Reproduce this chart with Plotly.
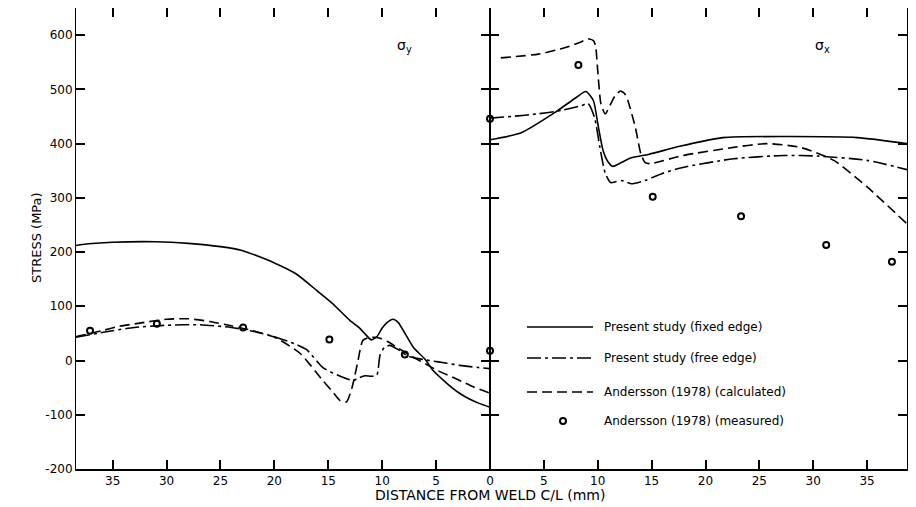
import plotly.graph_objects as go

# ---- data: sigma_y (left panel, distance decreasing to weld C/L) ----
sy_fixed_x = [38.4, 37.8, 35, 31, 28, 25, 23, 20, 18, 16, 14.6, 13, 12, 11.4, 11.0, 10.5, 10, 9.5, 9.0, 8.5, 8.0, 7.1, 6, 5.3, 4, 3, 2, 1, 0]
sy_fixed_y = [212, 214, 218, 219, 216, 210, 203, 180, 160, 128, 105, 74, 58, 45, 38, 44, 60, 71, 76, 70, 54, 24, 2, -18, -42, -58, -70, -79, -86]

sy_free_x = [38.4, 35, 33, 30, 27, 24, 22, 20, 18, 17, 15.5, 14, 12.7, 12.3, 11.6, 11.0, 10.5, 10.2, 9.8, 9.3, 8.5, 7.7, 6.5, 5.6, 4, 2.8, 1, 0]
sy_free_y = [43, 55, 61, 65, 66, 61, 54, 44, 30, 20, -13, -28, -37, -33, -28, -29, -27, 10, 24, 28, 20, 9, 3, 0, -5, -9, -13, -15]

sy_calc_x = [38.4, 36, 34.4, 32.5, 30, 28, 26, 24, 22, 20, 19.5, 17.6, 15.5, 14.5, 13.9, 13.3, 12.8, 12.3, 11.8, 11.3, 10.8, 10.2, 9.5, 8.6, 7.1, 6, 4.9, 3, 1.5, 0]
sy_calc_y = [44, 55, 63, 69, 76, 77, 72, 64, 55, 43, 38, 13, -37, -60, -74, -76, -50, -6, 37, 42, 43, 41, 35, 24, 6, -6, -18, -35, -49, -60]

sy_meas_x = [37.1, 30.9, 22.9, 14.9, 7.9, 0]
sy_meas_y = [55, 68, 61, 39, 11, 18]

# ---- data: sigma_x (right panel) ----
sx_fixed_x = [0, 2.9, 6.0, 8.0, 8.9, 9.6, 10.0, 10.5, 11.0, 11.4, 12.2, 13.1, 14.7, 17.6, 21.6, 27.2, 34.1, 38.7]
sx_fixed_y = [407, 420, 457, 485, 496, 479, 437, 387, 365, 358, 365, 374, 380, 395, 411, 413, 411, 400]

sx_free_x = [0, 2, 4.5, 6.6, 8.5, 9.1, 9.7, 10.2, 10.7, 11.2, 11.7, 12.2, 13.1, 14.4, 16, 17.9, 22.6, 27.2, 30.4, 35.0, 38.7]
sx_free_y = [447, 450, 455, 461, 470, 474, 448, 393, 345, 328, 330, 332, 326, 332, 345, 356, 372, 378, 377, 369, 352]

sx_calc_x = [1.0, 4.5, 7.0, 8.5, 9.1, 9.6, 9.8, 10.0, 10.3, 10.7, 11.2, 11.6, 12.1, 12.5, 12.8, 13.5, 14.0, 14.4, 14.9, 17.9, 22.6, 25.7, 28.8, 31.9, 35, 38.7]
sx_calc_y = [558, 565, 577, 588, 593, 590, 580, 534, 473, 455, 473, 488, 497, 492, 479, 429, 381, 365, 363, 378, 393, 400, 393, 369, 320, 252]

sx_meas_x = [0, 8.2, 15.1, 23.3, 31.2, 37.3]
sx_meas_y = [446, 545, 302, 266, 213, 182]

left_ticks = [35, 30, 25, 20, 15, 10, 5]
right_ticks = [0, 5, 10, 15, 20, 25, 30, 35]
y_ticks = [-200, -100, 0, 100, 200, 300, 400, 500, 600]
y_tick_text = ["-200", "-100", "0", "100", "200", "300", "400", "500", "600"]

legend_names = ["Present study (fixed edge)", "Present study (free edge)",
                "Andersson (1978) (calculated)", "Andersson (1978) (measured)"]

FONT = "DejaVu Sans"
SOLID = "solid"
DASHDOT = "14px,4px,3px,4px"
DASHED = "10px,5px"
LW = 1.6

fig = go.Figure()

def line(x, y, dash, xa, ya):
    fig.add_trace(go.Scatter(x=x, y=y, mode="lines", xaxis=xa, yaxis=ya,
                             line=dict(color="black", width=LW, dash=dash, shape="spline", smoothing=0.6),
                             showlegend=False, hoverinfo="skip"))

def pts(x, y, xa, ya):
    fig.add_trace(go.Scatter(x=x, y=y, mode="markers", xaxis=xa, yaxis=ya, cliponaxis=False,
                             marker=dict(symbol="circle-open", size=6, color="black", line=dict(width=2, color="black")),
                             showlegend=False, hoverinfo="skip"))

line(sy_fixed_x, sy_fixed_y, SOLID, "x", "y")
line(sy_free_x, sy_free_y, DASHDOT, "x", "y")
line(sy_calc_x, sy_calc_y, DASHED, "x", "y")
pts(sy_meas_x, sy_meas_y, "x", "y")

line(sx_fixed_x, sx_fixed_y, SOLID, "x2", "y2")
line(sx_free_x, sx_free_y, DASHDOT, "x2", "y2")
line(sx_calc_x, sx_calc_y, DASHED, "x2", "y2")
pts(sx_meas_x, sx_meas_y, "x2", "y2")

# page body has an 8px margin: figure origin sits at screen (8, 8)
OFF = 8
W, H = 916, 507
PL, PR, PT, PB = 76, 907, 8, 469          # target plot area in screen px
ML = PL - OFF
MT = PT - OFF
pw = PR - PL
ph = PB - PT
MR = W - ML - pw
MB = H - MT - ph
split = (490 - PL) / pw

def px2paper(px, py):
    return (px - PL) / pw, (PB - py) / ph

axis_common = dict(showline=True, linecolor="black", mirror="ticks",
                   ticks="inside", ticklen=9, tickwidth=1.5, tickcolor="black",
                   showgrid=False, zeroline=False, automargin=False,
                   tickfont=dict(family=FONT, size=12, color="black"))

fig.update_layout(
    width=W, height=H,
    margin=dict(l=ML, r=MR, t=MT, b=MB, autoexpand=False),
    paper_bgcolor="white", plot_bgcolor="white",
    font=dict(family=FONT, color="black"),
    xaxis=dict(domain=[0, split], range=[38.4, 0], tickvals=left_ticks, anchor="y", linewidth=1.5, **axis_common),
    xaxis2=dict(domain=[split, 1], range=[0, 38.7], tickvals=right_ticks, anchor="y2", linewidth=1.5, **axis_common),
    yaxis=dict(range=[-200, 650], tickvals=y_ticks, ticktext=y_tick_text, anchor="x", linewidth=1.1, **axis_common),
    yaxis2=dict(range=[-200, 650], tickvals=y_ticks, anchor="x2", showticklabels=False, linewidth=1.1, **axis_common),
)

# panel labels
fig.add_annotation(x=7.9, y=580, xref="x", yref="y", text="σ<sub>y</sub>", showarrow=False,
                   xanchor="center", yanchor="middle",
                   font=dict(family=FONT, size=14, color="black"))
fig.add_annotation(x=30.9, y=580, xref="x2", yref="y2", text="σ<sub>x</sub>", showarrow=False,
                   xanchor="center", yanchor="middle",
                   font=dict(family=FONT, size=14, color="black"))

# axis titles (plot-area paper coordinates)
tx, ty = px2paper(490, 495)
fig.add_annotation(x=tx, y=ty, xref="paper", yref="paper", xanchor="center", yanchor="middle",
                   text="DISTANCE FROM WELD C/L (mm)", showarrow=False,
                   font=dict(family=FONT, size=14, color="black"))
tx, ty = px2paper(36, 238)
fig.add_annotation(x=tx, y=ty, xref="paper", yref="paper", textangle=-90,
                   xanchor="center", yanchor="middle",
                   text="STRESS (MPa)", showarrow=False,
                   font=dict(family=FONT, size=13, color="black"))

# legend (manual)
rows_py = [327, 358, 392, 421]
dashes = [SOLID, DASHDOT, DASHED, None]
for name, py, dd in zip(legend_names, rows_py, dashes):
    x0, y0 = px2paper(527, py)
    x1, _ = px2paper(593, py)
    if dd is not None:
        fig.add_shape(type="line", xref="paper", yref="paper", x0=x0, x1=x1, y0=y0, y1=y0,
                      line=dict(color="black", width=LW, dash=dd))
    else:
        cx, cy = px2paper(563, py)
        fig.add_shape(type="circle", xref="paper", yref="paper",
                      x0=cx - 3 / pw, x1=cx + 3 / pw, y0=cy - 3 / ph, y1=cy + 3 / ph,
                      line=dict(color="black", width=2))
    tx, ty = px2paper(602, py)
    fig.add_annotation(x=tx, y=ty, xref="paper", yref="paper", xanchor="left", yanchor="middle",
                       text=name, showarrow=False, font=dict(family=FONT, size=12, color="black"))

fig.write_html("out.html")
